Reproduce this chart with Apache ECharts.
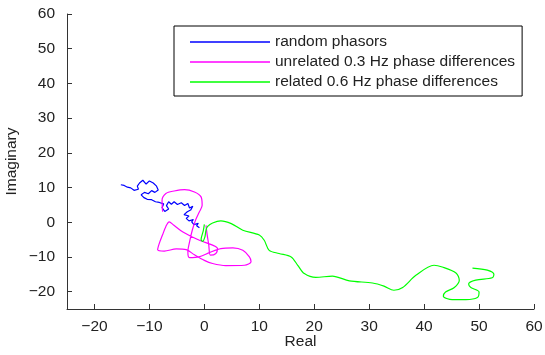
<!DOCTYPE html>
<html>
<head>
<meta charset="utf-8">
<script src="https://cdn.jsdelivr.net/npm/echarts@6/dist/echarts.min.js"></script>
<style>
  html, body { margin: 0; padding: 0; background: #fff; }
  #chart { width: 545px; height: 355px; }
</style>
</head>
<body>
<div id="chart"></div>
<script>
// tick values
var xTicks = [-20, -10, 0, 10, 20, 30, 40, 50, 60];
var yTicks = [-20, -10, 0, 10, 20, 30, 40, 50, 60];

var seriesNames = ['random phasors', 'unrelated 0.3 Hz phase differences', 'related 0.6 Hz phase differences'];
var colorList = ['#0000ff', '#ff00ff', '#00ff00'];

// random phasors
var bluePath = [
  [-0.9, -1.6], [-1.4, -1.0], [-1.1, -0.3], [-1.9, -0.7], [-2.3, 0.1], [-2.0, 0.8],
  [-2.8, 0.4], [-3.3, 1.1], [-2.8, 1.8], [-3.7, 2.2], [-3.1, 3.0], [-2.5, 3.5],
  [-2.1, 4.6], [-2.7, 4.1], [-3.0, 5.4], [-3.6, 4.8], [-4.2, 5.6], [-4.9, 5.1],
  [-5.5, 5.9], [-6.0, 5.2], [-6.5, 5.9], [-6.9, 4.8], [-6.5, 3.8], [-7.2, 3.1],
  [-7.7, 4.2], [-7.4, 5.3], [-8.2, 5.7], [-8.9, 5.9], [-9.6, 6.5], [-10.4, 6.6],
  [-11.0, 7.1], [-11.5, 7.9], [-10.9, 8.6], [-10.2, 8.2], [-9.6, 9.1], [-9.0, 8.6],
  [-8.4, 9.3], [-8.7, 10.4], [-9.3, 11.3], [-10.0, 11.9], [-10.6, 11.0], [-11.2, 12.1],
  [-11.8, 11.3], [-12.2, 10.4], [-12.0, 9.5], [-12.8, 9.2], [-13.4, 9.9], [-14.0, 10.1],
  [-14.6, 10.6], [-15.2, 10.8]
];

// unrelated 0.3 Hz phase differences
var magentaPath = [
  [0.3, -0.9], [0.5, -3.5], [0.8, -6.5], [1.1, -9.5], [2.1, -9.0], [2.4, -7.6],
  [1.5, -6.6], [-0.9, -5.2], [-3.9, -2.8], [-5.6, -0.8], [-6.4, 0.1], [-7.0, -1.2],
  [-7.6, -3.6], [-8.2, -6.1], [-8.5, -7.9], [-7.3, -8.3], [-5.1, -7.7], [-3.3, -7.9],
  [-1.8, -9.4], [0.0, -11.0], [1.5, -11.9], [3.9, -12.5], [7.3, -12.4], [8.5, -11.4],
  [8.2, -10.0], [7.0, -8.1], [5.2, -7.4], [3.0, -7.6], [1.0, -8.7], [-1.0, -10.0],
  [-2.7, -10.2], [-3.0, -8.5], [-2.7, -5.7], [-2.2, -2.3], [-1.6, 0.6], [-0.9, 3.0],
  [-0.4, 4.9], [-0.6, 7.3], [-1.8, 8.7], [-3.6, 9.4], [-5.5, 9.0], [-7.0, 8.3],
  [-7.7, 6.3], [-7.6, 3.0]
];

// related 0.6 Hz phase differences
var greenPath = [
  [0.0, -0.6], [-0.2, -2.5], [-0.6, -5.0], [-0.3, -5.5], [0.1, -4.2], [0.3, -2.3],
  [0.6, -1.2], [1.5, -0.2], [3.0, 0.4], [4.9, -0.4], [7.0, -2.3], [10.0, -3.7],
  [10.9, -5.2], [11.8, -8.1], [13.6, -9.0], [15.8, -10.0], [17.0, -12.4], [18.2, -14.8],
  [20.3, -15.9], [23.3, -15.5], [26.4, -16.9], [30.6, -17.5], [32.7, -18.4], [34.5, -19.6],
  [36.1, -18.8], [38.5, -15.3], [41.8, -12.4], [43.3, -12.9], [45.8, -14.6], [46.4, -16.7],
  [45.5, -18.8], [43.9, -20.1], [43.5, -21.3], [45.1, -22.3], [47.6, -22.3], [49.7, -21.7],
  [50.0, -20.1], [48.5, -18.8], [48.1, -17.8], [49.4, -16.7], [52.4, -16.0], [52.7, -15.0],
  [51.5, -13.8], [48.8, -13.2]
];

var font = "'Liberation Sans', Arial, Helvetica, sans-serif";
var fs = 15.5;

function minusFmt(v) {
  return String(v).replace('-', '\u2212');
}

function axisStyle(ticks) {
  return {
    nameMoveOverlap: false,
    axisLine: { show: true, onZero: false, lineStyle: { color: '#333', width: 1 } },
    axisTick: { show: true, inside: true, length: 5, customValues: ticks, lineStyle: { color: '#333' } },
    axisLabel: { customValues: ticks, formatter: minusFmt, color: '#222', fontSize: fs, fontFamily: font },
    splitLine: { show: false }
  };
}

var myChart = echarts.init(document.getElementById('chart'));
var xAxis = Object.assign({
  type: 'value', min: -25, max: 60,
  name: 'Real', nameLocation: 'middle', nameGap: 25,
  nameTextStyle: { color: '#222', fontSize: fs, fontFamily: font }
}, axisStyle(xTicks));
xAxis.axisLabel.margin = 10;

var yAxis = Object.assign({
  type: 'value', min: -25, max: 60,
  name: 'Imaginary', nameLocation: 'middle', nameGap: 47,
  nameTextStyle: { color: '#222', fontSize: fs, fontFamily: font }
}, axisStyle(yTicks));
yAxis.axisLabel.margin = 12;

var paths = [bluePath, magentaPath, greenPath];

myChart.setOption({
  animation: false,
  grid: { left: 67, right: 11, top: 14, bottom: 46, outerBoundsMode: 'none', containLabel: false },
  legend: {
    orient: 'vertical',
    left: 174, top: 26,
    icon: 'rect',
    itemWidth: 80, itemHeight: 1.5,
    itemGap: 0, itemTextGap: 9,
    padding: [6, 7, 4, 16],
    borderColor: '#000', borderWidth: 1,
    backgroundColor: '#fff',
    textStyle: { color: '#222', fontSize: fs, fontFamily: font, lineHeight: 20 },
    data: seriesNames
  },
  xAxis: xAxis,
  yAxis: yAxis,
  series: seriesNames.map(function (name, i) {
    return {
      name: name,
      type: 'line',
      data: paths[i],
      showSymbol: false,
      smooth: i === 0 ? false : 0.3,
      color: colorList[i],
      lineStyle: { color: colorList[i], width: 1.2 }
    };
  })
});
</script>
</body>
</html>
